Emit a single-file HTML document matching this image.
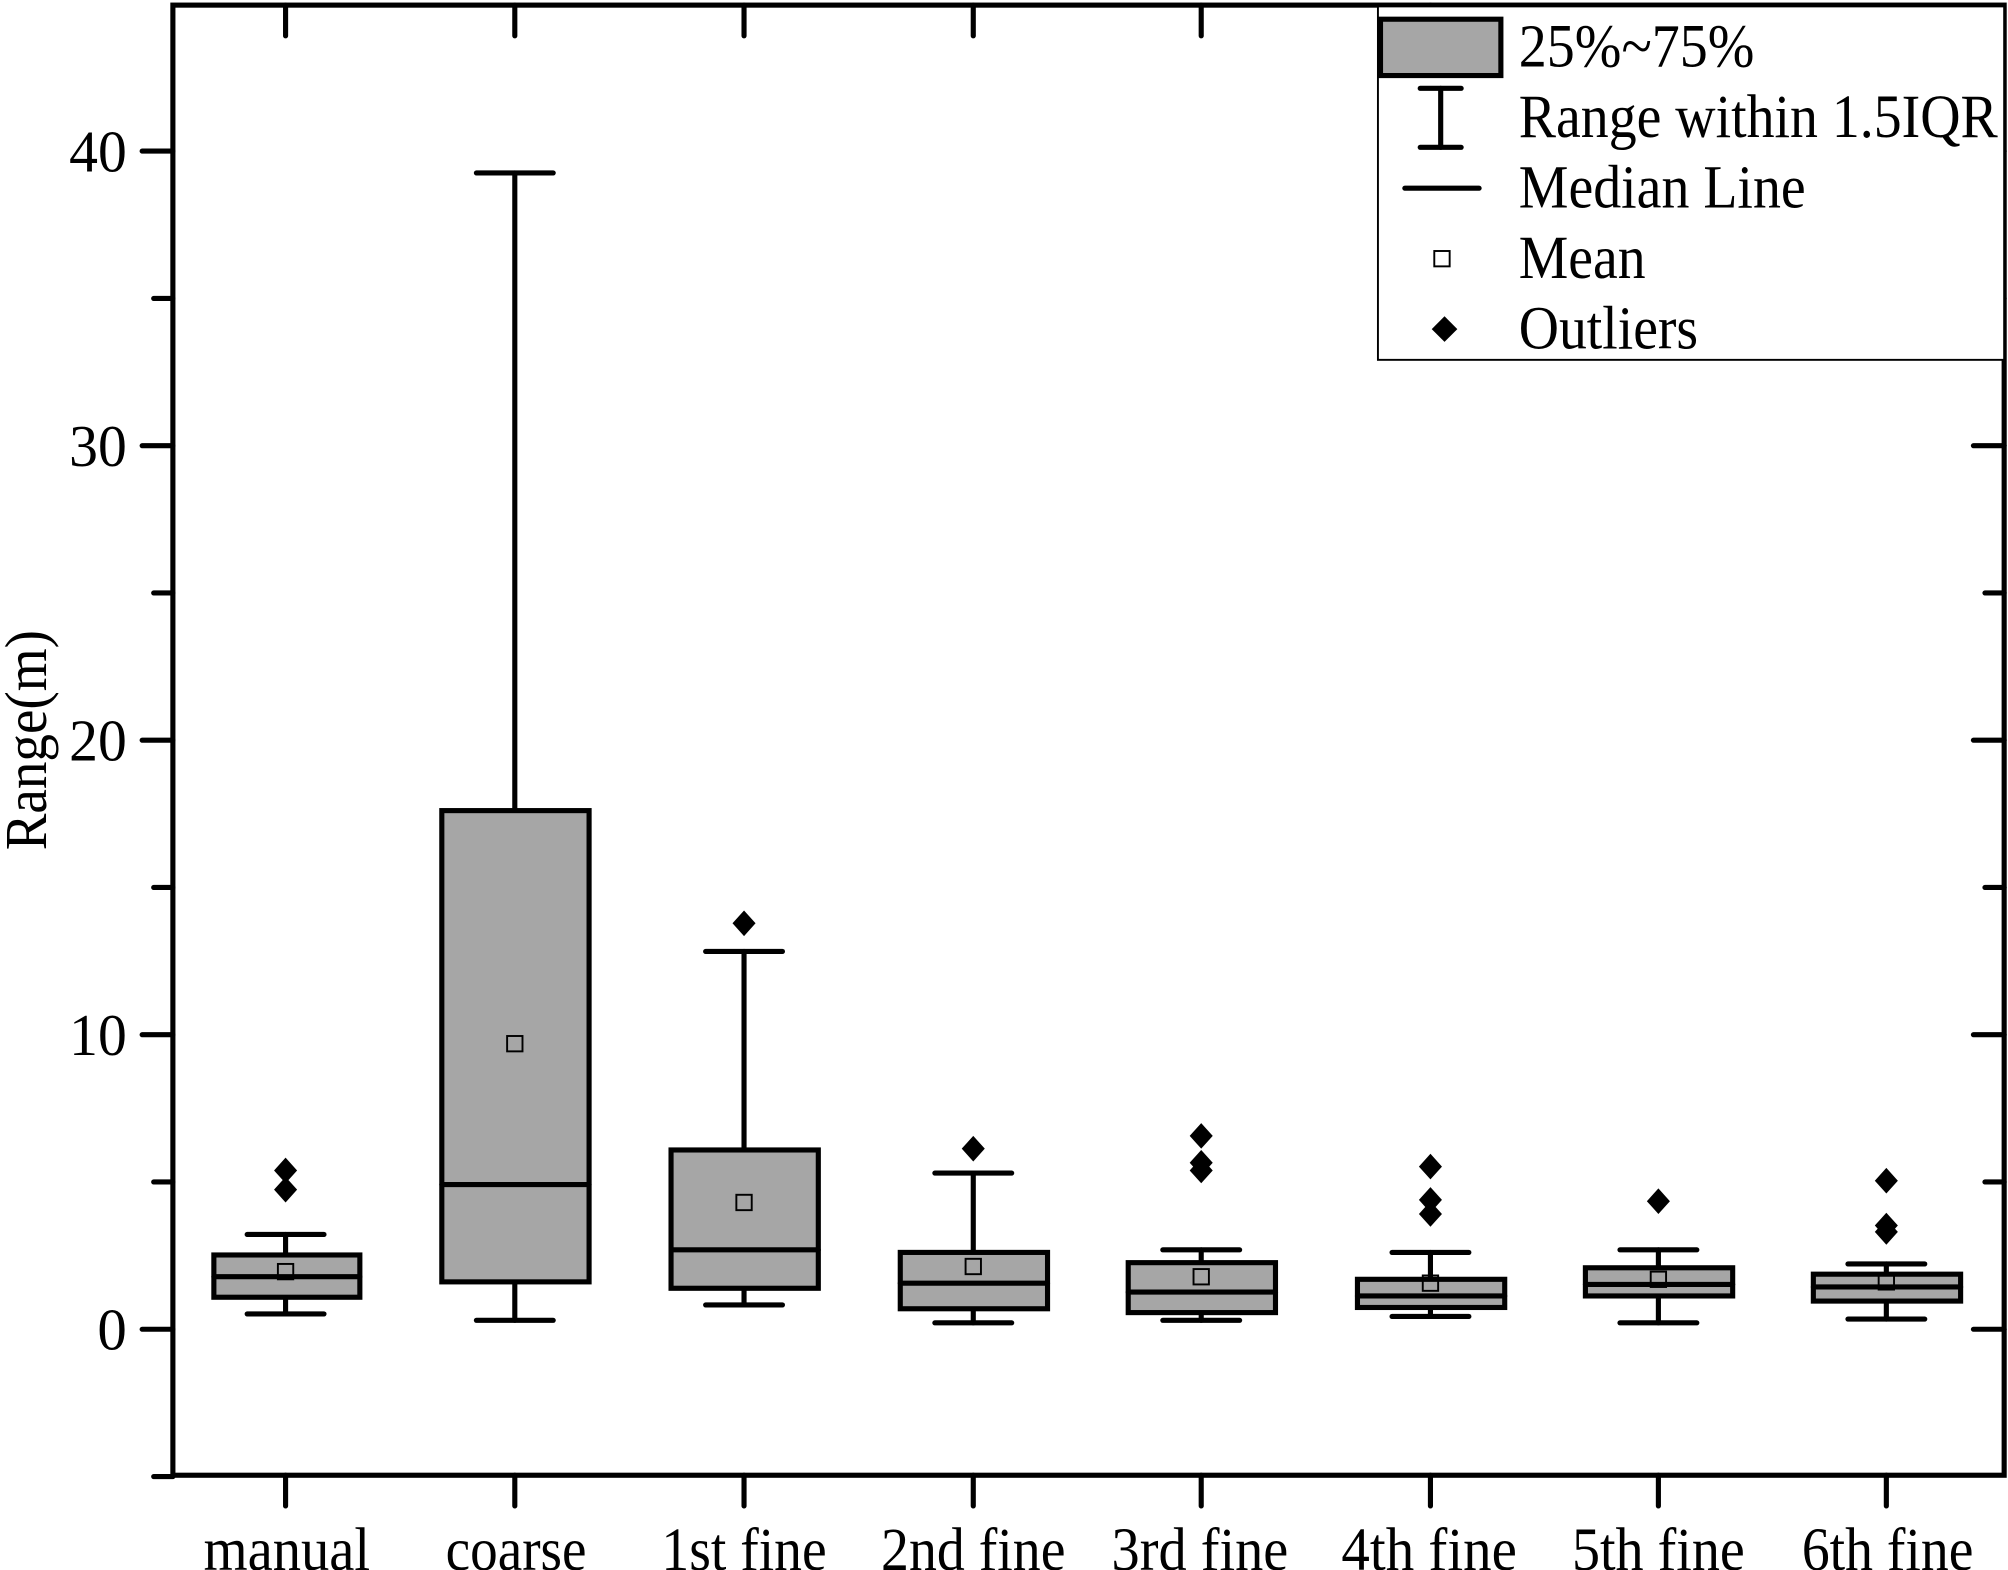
<!DOCTYPE html>
<html><head><meta charset="utf-8"><style>
html,body{margin:0;padding:0;background:#fff;}
svg{display:block;}
text{font-family:"Liberation Serif",serif;fill:#000;}
</style></head><body>
<svg width="2008" height="1570" viewBox="0 0 1568 1226" preserveAspectRatio="none" xmlns="http://www.w3.org/2000/svg">
<g stroke="#000" stroke-width="4" stroke-linecap="round" fill="none">
<rect x="135" y="4" width="1430" height="1148"/>
<line x1="111" y1="1038" x2="135" y2="1038"/><line x1="111" y1="808" x2="135" y2="808"/><line x1="111" y1="578" x2="135" y2="578"/><line x1="111" y1="348" x2="135" y2="348"/><line x1="111" y1="118" x2="135" y2="118"/>
<line x1="120" y1="1153" x2="135" y2="1153"/><line x1="120" y1="923" x2="135" y2="923"/><line x1="120" y1="693" x2="135" y2="693"/><line x1="120" y1="463" x2="135" y2="463"/><line x1="120" y1="233" x2="135" y2="233"/>
<line x1="1541" y1="1038" x2="1565" y2="1038"/><line x1="1541" y1="808" x2="1565" y2="808"/><line x1="1541" y1="578" x2="1565" y2="578"/><line x1="1541" y1="348" x2="1565" y2="348"/><line x1="1541" y1="118" x2="1565" y2="118"/>
<line x1="1550" y1="923" x2="1565" y2="923"/><line x1="1550" y1="693" x2="1565" y2="693"/><line x1="1550" y1="463" x2="1565" y2="463"/><line x1="1550" y1="233" x2="1565" y2="233"/>
<line x1="223" y1="1152" x2="223" y2="1176"/><line x1="402" y1="1152" x2="402" y2="1176"/><line x1="581" y1="1152" x2="581" y2="1176"/><line x1="760" y1="1152" x2="760" y2="1176"/><line x1="938" y1="1152" x2="938" y2="1176"/><line x1="1117" y1="1152" x2="1117" y2="1176"/><line x1="1295" y1="1152" x2="1295" y2="1176"/><line x1="1473" y1="1152" x2="1473" y2="1176"/>
<line x1="223" y1="4" x2="223" y2="28"/><line x1="402" y1="4" x2="402" y2="28"/><line x1="581" y1="4" x2="581" y2="28"/><line x1="760" y1="4" x2="760" y2="28"/><line x1="938" y1="4" x2="938" y2="28"/><line x1="1117" y1="4" x2="1117" y2="28"/>
</g>
<g font-size="46" text-anchor="end">
<text x="99" y="1054">0</text>
<text x="99" y="824" textLength="45" lengthAdjust="spacingAndGlyphs">10</text>
<text x="99" y="594" textLength="45" lengthAdjust="spacingAndGlyphs">20</text>
<text x="99" y="364" textLength="45" lengthAdjust="spacingAndGlyphs">30</text>
<text x="99" y="134" textLength="45" lengthAdjust="spacingAndGlyphs">40</text>
</g>
<text transform="translate(36,578) rotate(-90)" font-size="46" text-anchor="middle" textLength="172" lengthAdjust="spacingAndGlyphs">Range(m)</text>
<g font-size="48" text-anchor="middle">
<text x="224" y="1226" textLength="130" lengthAdjust="spacingAndGlyphs">manual</text>
<text x="403" y="1226" textLength="110" lengthAdjust="spacingAndGlyphs">coarse</text>
<text x="581" y="1226" textLength="129" lengthAdjust="spacingAndGlyphs">1st fine</text>
<text x="760" y="1226" textLength="144" lengthAdjust="spacingAndGlyphs">2nd fine</text>
<text x="937" y="1226" textLength="138" lengthAdjust="spacingAndGlyphs">3rd fine</text>
<text x="1116" y="1226" textLength="137" lengthAdjust="spacingAndGlyphs">4th fine</text>
<text x="1295" y="1226" textLength="135" lengthAdjust="spacingAndGlyphs">5th fine</text>
<text x="1474" y="1226" textLength="134" lengthAdjust="spacingAndGlyphs">6th fine</text>
</g>
<g stroke="#000" stroke-width="4" stroke-linecap="round">
<line x1="223" y1="1026" x2="223" y2="964"/><line x1="193" y1="1026" x2="253" y2="1026"/><line x1="193" y1="964" x2="253" y2="964"/>
<rect x="167" y="980" width="114" height="33" fill="#a6a6a6"/><line x1="167" y1="997" x2="281" y2="997"/>
<line x1="402" y1="1031" x2="402" y2="135"/><line x1="372" y1="1031" x2="432" y2="1031"/><line x1="372" y1="135" x2="432" y2="135"/>
<rect x="345" y="633" width="115" height="368" fill="#a6a6a6"/><line x1="345" y1="925" x2="460" y2="925"/>
<line x1="581" y1="1019" x2="581" y2="743"/><line x1="551" y1="1019" x2="611" y2="1019"/><line x1="551" y1="743" x2="611" y2="743"/>
<rect x="524" y="898" width="115" height="108" fill="#a6a6a6"/><line x1="524" y1="976" x2="639" y2="976"/>
<line x1="760" y1="1033" x2="760" y2="916"/><line x1="730" y1="1033" x2="790" y2="1033"/><line x1="730" y1="916" x2="790" y2="916"/>
<rect x="703" y="978" width="115" height="44" fill="#a6a6a6"/><line x1="703" y1="1002" x2="818" y2="1002"/>
<line x1="938" y1="1031" x2="938" y2="976"/><line x1="908" y1="1031" x2="968" y2="1031"/><line x1="908" y1="976" x2="968" y2="976"/>
<rect x="881" y="986" width="115" height="39" fill="#a6a6a6"/><line x1="881" y1="1009" x2="996" y2="1009"/>
<line x1="1117" y1="1028" x2="1117" y2="978"/><line x1="1087" y1="1028" x2="1147" y2="1028"/><line x1="1087" y1="978" x2="1147" y2="978"/>
<rect x="1060" y="999" width="115" height="22" fill="#a6a6a6"/><line x1="1060" y1="1012" x2="1175" y2="1012"/>
<line x1="1295" y1="1033" x2="1295" y2="976"/><line x1="1265" y1="1033" x2="1325" y2="1033"/><line x1="1265" y1="976" x2="1325" y2="976"/>
<rect x="1238" y="990" width="115" height="22" fill="#a6a6a6"/><line x1="1238" y1="1003" x2="1353" y2="1003"/>
<line x1="1473" y1="1030" x2="1473" y2="987"/><line x1="1443" y1="1030" x2="1503" y2="1030"/><line x1="1443" y1="987" x2="1503" y2="987"/>
<rect x="1416" y="995" width="115" height="21" fill="#a6a6a6"/><line x1="1416" y1="1005" x2="1531" y2="1005"/>
</g>
<g stroke="#000" stroke-width="1.5" fill="none">
<rect x="217" y="987" width="12" height="12"/><rect x="396" y="809" width="12" height="12"/><rect x="575" y="933" width="12" height="12"/><rect x="754" y="983" width="12" height="12"/><rect x="932" y="991" width="12" height="12"/><rect x="1111" y="996" width="12" height="12"/><rect x="1289" y="993" width="12" height="12"/><rect x="1467" y="995" width="12" height="12"/>
</g>
<g fill="#000">
<path d="M223 904l9 10-9 10-9-10z"/><path d="M223 919l9 10-9 10-9-10z"/>
<path d="M581 711l9 10-9 10-9-10z"/>
<path d="M760 887l9 10-9 10-9-10z"/>
<path d="M938 877l9 10-9 10-9-10z"/><path d="M938 898l9 10-9 10-9-10z"/><path d="M938 904l9 10-9 10-9-10z"/>
<path d="M1117 901l9 10-9 10-9-10z"/><path d="M1117 927l9 10-9 10-9-10z"/><path d="M1117 938l9 10-9 10-9-10z"/>
<path d="M1295 928l9 10-9 10-9-10z"/>
<path d="M1473 912l9 10-9 10-9-10z"/><path d="M1473 947l9 10-9 10-9-10z"/><path d="M1473 952l9 10-9 10-9-10z"/>
</g>
<rect x="1076" y="5" width="489" height="276" fill="#fff" stroke="#000" stroke-width="1.5"/>
<rect x="1078" y="15" width="94" height="44" fill="#a6a6a6" stroke="#000" stroke-width="4"/>
<g stroke="#000" stroke-width="4" stroke-linecap="round">
<line x1="1109" y1="69" x2="1141" y2="69"/><line x1="1109" y1="115" x2="1141" y2="115"/><line x1="1125" y1="69" x2="1125" y2="115"/>
<line x1="1097" y1="147" x2="1155" y2="147"/>
</g>
<rect x="1120" y="196" width="12" height="12" fill="none" stroke="#000" stroke-width="1.5"/>
<path d="M1128 247l10 10-10 10-10-10z" fill="#000"/>
<g font-size="48">
<text x="1186" y="52" textLength="184" lengthAdjust="spacingAndGlyphs">25%~75%</text>
<text x="1186" y="107" textLength="374" lengthAdjust="spacingAndGlyphs">Range within 1.5IQR</text>
<text x="1186" y="162" textLength="224" lengthAdjust="spacingAndGlyphs">Median Line</text>
<text x="1186" y="217" textLength="99" lengthAdjust="spacingAndGlyphs">Mean</text>
<text x="1186" y="272" textLength="140" lengthAdjust="spacingAndGlyphs">Outliers</text>
</g>
</svg>
</body></html>
